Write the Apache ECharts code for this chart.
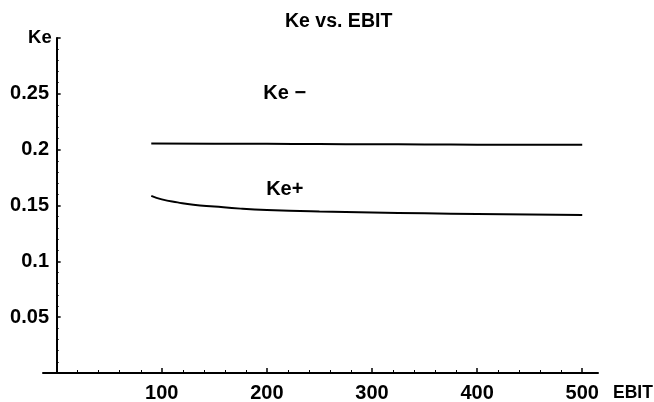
<!DOCTYPE html>
<html>
<head>
<meta charset="utf-8">
<script src="https://cdn.jsdelivr.net/npm/echarts@6/dist/echarts.min.js"></script>
<style>
html,body{margin:0;padding:0;background:#fff;}
#c{width:654px;height:402px;}
</style>
</head>
<body>
<div id="c"></div>
<script>
// ---- data ----
const titleText = 'Ke vs. EBIT';
const xName = 'EBIT';
const yName = 'Ke';
const keMinusX = [90, 150, 200, 250, 300, 350, 400, 450, 500];
const keMinusY = [0.2056, 0.2054, 0.2052, 0.2050, 0.2049, 0.2047, 0.2045, 0.2044, 0.2043];
const kePlusX = [90, 100, 115, 130, 150, 175, 200, 250, 300, 350, 400, 450, 500];
const kePlusY = [0.1586, 0.1555, 0.1528, 0.1506, 0.1490, 0.1472, 0.1460, 0.1446, 0.1437, 0.1430, 0.1424, 0.1419, 0.1415];
const xMajorTicks = [100, 200, 300, 400, 500];
const xMinorTicks = [20, 40, 60, 80, 120, 140, 160, 180, 220, 240, 260, 280, 320, 340, 360, 380, 420, 440, 460, 480];
const labelMinus = 'Ke \u2212';
const labelPlus = 'Ke+';
const labelMinusAt = [217, 0.2503];
const labelPlusAt = [217, 0.1639];

const FONT = '"Liberation Sans", Arial, Helvetica, sans-serif';
const txt = {color: '#000', fontFamily: FONT, fontSize: 20, fontWeight: 'bold'};

const chart = echarts.init(document.getElementById('c'), null, {renderer: 'canvas'});
function zip(xs, ys) { return xs.map((x, i) => [x, ys[i]]); }

chart.setOption({
  animation: false,
  backgroundColor: '#fff',
  title: {
    text: titleText, left: 285, top: 12, padding: 0,
    textStyle: Object.assign({}, txt, {fontSize: 19.5})
  },
  grid: {left: 43, right: 56, top: 38, bottom: 29, containLabel: false, outerBoundsMode: 'none'},
  xAxis: [{
    type: 'value', min: -13, max: 515,
    name: xName, nameLocation: 'end', nameGap: 15,
    nameTextStyle: Object.assign({}, txt, {fontSize: 17.5, verticalAlign: 'top', padding: [11, 0, 0, 0]}),
    axisLine: {show: true, onZero: true, lineStyle: {color: '#000', width: 2}},
    axisTick: {show: true, inside: true, length: 5, customValues: xMajorTicks, lineStyle: {color: '#000', width: 1.5}},
    axisLabel: Object.assign({show: true, customValues: xMajorTicks, margin: 10}, txt),
    splitLine: {show: false}
  }, {
    type: 'value', min: -13, max: 515, position: 'bottom',
    axisLine: {show: false},
    axisTick: {show: true, inside: true, length: 3, customValues: xMinorTicks, lineStyle: {color: '#000', width: 1}},
    axisLabel: {show: false},
    splitLine: {show: false}
  }],
  yAxis: {
    type: 'value', min: 0, max: 0.3, interval: 0.05,
    name: yName, nameLocation: 'end', nameGap: 0,
    nameTextStyle: Object.assign({}, txt, {fontSize: 18.5, align: 'right', verticalAlign: 'middle', padding: [0, 5, 0, 0]}),
    axisLine: {show: true, onZero: true, onZeroAxisIndex: 0, lineStyle: {color: '#000', width: 2}},
    axisTick: {show: true, inside: true, length: 4, lineStyle: {color: '#000', width: 1.5}},
    minorTick: {show: true, splitNumber: 5, length: 2, lineStyle: {color: '#000', width: 1}},
    axisLabel: Object.assign({
      show: true, margin: -6,
      formatter: v => (v <= 0 || v >= 0.299) ? '' : String(+v.toFixed(2))
    }, txt),
    splitLine: {show: false}
  },
  series: [{
    name: 'Ke-', type: 'line', xAxisIndex: 0, data: zip(keMinusX, keMinusY),
    showSymbol: false, symbol: 'none', smooth: true,
    lineStyle: {color: '#000', width: 2},
    markPoint: {
      symbol: 'circle', symbolSize: 0, silent: true,
      label: Object.assign({show: true, position: 'inside', formatter: labelMinus}, txt),
      data: [{coord: labelMinusAt}]
    }
  }, {
    name: 'Ke+', type: 'line', xAxisIndex: 0, data: zip(kePlusX, kePlusY),
    showSymbol: false, symbol: 'none', smooth: true,
    lineStyle: {color: '#000', width: 2},
    markPoint: {
      symbol: 'circle', symbolSize: 0, silent: true,
      label: Object.assign({show: true, position: 'inside', formatter: labelPlus}, txt),
      data: [{coord: labelPlusAt}]
    }
  }]
});
</script>
</body>
</html>
